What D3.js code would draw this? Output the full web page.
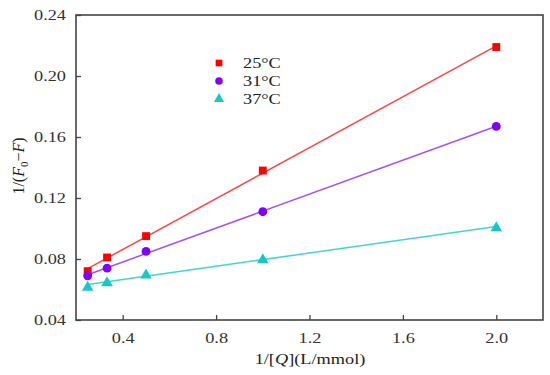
<!DOCTYPE html>
<html>
<head>
<meta charset="utf-8">
<script src="https://cdn.jsdelivr.net/npm/d3@7"></script>
<style>
  body { margin: 0; background: #fff; }
  svg { display: block; font-family: "Liberation Serif", "DejaVu Serif", serif; }
</style>
</head>
<body>
<div id="chart"></div>
<script>
// Data
const xValues = [0.25, 0.333, 0.5, 1.0, 2.0];
const series25 = [0.072, 0.081, 0.095, 0.138, 0.219];
const series31 = [0.069, 0.074, 0.085, 0.111, 0.167];
const series37 = [0.062, 0.065, 0.070, 0.080, 0.101];
const seriesNames = ["25°C", "31°C", "37°C"];
const xTicks = [0.4, 0.8, 1.2, 1.6, 2.0];
const yTicks = [0.04, 0.08, 0.12, 0.16, 0.20, 0.24];

const width = 550, height = 375;
const margin = {top: 15, right: 7, bottom: 55, left: 76};
const textScale = 1.22;

const svg = d3.select("#chart").append("svg")
    .attr("width", width)
    .attr("height", height);

const x = d3.scaleLinear().domain([0.2, 2.2]).range([margin.left, width - margin.right]);
const y = d3.scaleLinear().domain([0.04, 0.24]).range([height - margin.bottom, margin.top]);

const series = [
    {name: seriesNames[0], values: series25, marker: "#ff0000", line: "#ff4545", symbol: d3.symbolSquare, size: 62},
    {name: seriesNames[1], values: series31, marker: "#7f00ff", line: "#a250ff", symbol: d3.symbolCircle, size: 62},
    {name: seriesNames[2], values: series37, marker: "#17c7c7", line: "#3fd6d6", symbol: d3.symbolTriangle, size: 58}
];

// least squares fit for each set
function fit(xs, ys) {
    const mx = d3.mean(xs), my = d3.mean(ys);
    let num = 0, den = 0;
    xs.forEach((v, i) => { num += (v - mx) * (ys[i] - my); den += (v - mx) * (v - mx); });
    const b = num / den;
    return {b: b, a: my - b * mx};
}

const axisColor = "#444";

// axes (ticks inward)
const xAxis = svg.append("g")
    .attr("transform", `translate(0,${height - margin.bottom})`)
    .call(d3.axisBottom(x).tickValues(xTicks).tickSize(-5).tickSizeOuter(0).tickPadding(10).tickFormat(d3.format(".1f")));

const yAxis = svg.append("g")
    .attr("transform", `translate(${margin.left},0)`)
    .call(d3.axisLeft(y).tickValues(yTicks).tickSize(-5).tickSizeOuter(0).tickPadding(10).tickFormat(d3.format(".2f")));

[xAxis, yAxis].forEach(g => {
    g.select(".domain").remove();
    g.selectAll(".tick line").attr("stroke", axisColor).attr("stroke-width", 1.3);
    g.selectAll(".tick text")
        .attr("fill", "#333")
        .style("font-size", "15px")
        .style("font-family", "Liberation Serif, serif");
});
xAxis.selectAll(".tick text").attr("transform", `scale(${textScale},1)`).attr("dy", "0.9em");
yAxis.selectAll(".tick text")
    .attr("x", -10 / textScale)
    .attr("transform", `scale(${textScale},1)`);

// frame
svg.append("rect")
    .attr("x", margin.left)
    .attr("y", margin.top)
    .attr("width", width - margin.left - margin.right)
    .attr("height", height - margin.top - margin.bottom)
    .attr("fill", "none")
    .attr("stroke", axisColor)
    .attr("stroke-width", 1.6);

// fit lines
series.forEach(s => {
    const f = fit(xValues, s.values);
    const x0 = d3.min(xValues), x1 = d3.max(xValues);
    svg.append("line")
        .attr("x1", x(x0)).attr("y1", y(f.a + f.b * x0))
        .attr("x2", x(x1)).attr("y2", y(f.a + f.b * x1))
        .attr("stroke", s.line)
        .attr("stroke-width", 1.5);
});

// markers
series.forEach(s => {
    svg.append("g").selectAll("path")
        .data(xValues.map((v, i) => [v, s.values[i]]))
        .join("path")
        .attr("d", d3.symbol().type(s.symbol).size(s.size))
        .attr("transform", d => `translate(${x(d[0])},${y(d[1]) + (s.symbol === d3.symbolTriangle ? 1 : 0)})`)
        .attr("fill", s.marker);
});

// legend
const legend = svg.append("g").attr("transform", "translate(219,63)");
series.forEach((s, i) => {
    const row = legend.append("g").attr("transform", `translate(0,${i * 18})`);
    row.append("path")
        .attr("d", d3.symbol().type(s.symbol).size(45))
        .attr("fill", s.marker);
    row.append("text")
        .attr("transform", `translate(24,5) scale(${textScale},1)`)
        .attr("fill", "#222")
        .style("font-size", "15px")
        .text(s.name);
});

// axis titles
const xTitle = svg.append("text")
    .attr("transform", `translate(310,364) scale(${textScale},1)`)
    .attr("text-anchor", "middle")
    .attr("fill", "#222")
    .style("font-size", "15px");
xTitle.append("tspan").text("1/[");
xTitle.append("tspan").style("font-style", "italic").text("Q");
xTitle.append("tspan").text("](L/mmol)");

const yTitle = svg.append("text")
    .attr("transform", "translate(24,166) rotate(-90)")
    .attr("text-anchor", "middle")
    .attr("fill", "#222")
    .style("font-size", "16px");
yTitle.append("tspan").text("1/(");
yTitle.append("tspan").style("font-style", "italic").text("F");
yTitle.append("tspan").attr("dy", 4).style("font-size", "11px").text("0");
yTitle.append("tspan").attr("dy", -4).text("\u2212");
yTitle.append("tspan").style("font-style", "italic").text("F");
yTitle.append("tspan").text(")");
</script>
</body>
</html>
